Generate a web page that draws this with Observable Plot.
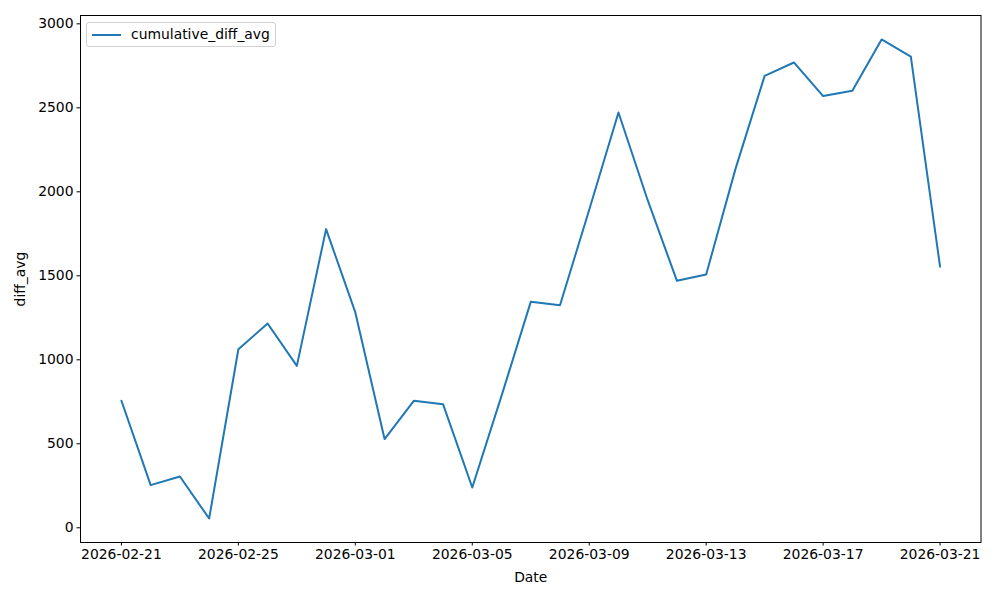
<!DOCTYPE html>
<html>
<head>
<meta charset="utf-8">
<script src="https://cdn.jsdelivr.net/npm/d3@7"></script>
<script src="https://cdn.jsdelivr.net/npm/@observablehq/plot@0.6"></script>
<style>
  html, body { margin: 0; padding: 0; background: #fff; }
  #wrap { position: relative; width: 1000px; height: 600px; font-family: "DejaVu Sans", sans-serif; }
  #legend { position: absolute; left: 86px; top: 22px; width: 190px; height: 25px; border: 1px solid #d0d0d0; border-radius: 3px; background: rgba(255,255,255,0.8); font-size: 13.9px; box-sizing: border-box; }
  #legend .swatch { position: absolute; left: 5px; top: 11px; width: 29px; height: 0; border-top: 2px solid #1f77b4; }
  #legend .label { position: absolute; left: 44px; top: 3px; white-space: nowrap; color: #000; }
</style>
</head>
<body>
<div id="wrap"></div>
<script>
const dates = [
  "2026-02-21","2026-02-22","2026-02-23","2026-02-24","2026-02-25","2026-02-26","2026-02-27","2026-02-28",
  "2026-03-01","2026-03-02","2026-03-03","2026-03-04","2026-03-05","2026-03-06","2026-03-07","2026-03-08",
  "2026-03-09","2026-03-10","2026-03-11","2026-03-12","2026-03-13","2026-03-14","2026-03-15","2026-03-16",
  "2026-03-17","2026-03-18","2026-03-19","2026-03-20","2026-03-21"
];
const cumulativeDiffAvg = [
  756, 254, 305, 55, 1063, 1216, 964, 1778,
  1282, 528, 756, 736, 240, 785, 1345, 1325,
  1893, 2472, 1950, 1470, 1508, 2135, 2690, 2770,
  2570, 2601, 2907, 2805, 1554
];
const xTickLabels = ["2026-02-21","2026-02-25","2026-03-01","2026-03-05","2026-03-09","2026-03-13","2026-03-17","2026-03-21"];
const yTicks = [0, 500, 1000, 1500, 2000, 2500, 3000];
const seriesName = "cumulative_diff_avg";

const data = dates.map((d, i) => ({date: new Date(d + "T00:00:00Z"), value: cumulativeDiffAvg[i]}));

// matplotlib-style 5% margins
const xMin = d3.min(data, d => d.date), xMax = d3.max(data, d => d.date);
const xPad = (xMax - xMin) * 0.05;
const yMin = d3.min(cumulativeDiffAvg), yMax = d3.max(cumulativeDiffAvg);
const yPad = (yMax - yMin) * 0.05;

const fmt = d3.utcFormat("%Y-%m-%d");

const chart = Plot.plot({
  width: 1000,
  height: 600,
  marginLeft: 80,
  marginRight: 19.5,
  marginTop: 15,
  marginBottom: 58,
  style: {fontFamily: "DejaVu Sans, sans-serif", fontSize: "13.9px", color: "#000", background: "#fff"},
  x: {type: "utc", domain: [new Date(+xMin - xPad), new Date(+xMax + xPad)]},
  y: {domain: [yMin - yPad, yMax + yPad]},
  marks: [
    Plot.axisX({
      ticks: xTickLabels.map(s => new Date(s + "T00:00:00Z")),
      tickFormat: fmt,
      tickSize: 3.5,
      tickPadding: 3.5,
      label: "Date",
      labelAnchor: "center",
      labelArrow: "none",
      labelOffset: 39
    }),
    Plot.axisY({
      ticks: yTicks,
      tickFormat: d => String(d),
      tickSize: 3.5,
      tickPadding: 3.5,
      label: "diff_avg",
      labelAnchor: "center",
      labelArrow: "none",
      labelOffset: 65
    }),
    Plot.line(data, {x: "date", y: "value", stroke: "#1f77b4", strokeWidth: 2}),
    Plot.frame({stroke: "#000", strokeWidth: 1})
  ]
});

const wrap = document.getElementById("wrap");
wrap.appendChild(chart);
const legend = document.createElement("div");
legend.id = "legend";
legend.innerHTML = `<div class="swatch"></div><div class="label">${seriesName}</div>`;
wrap.appendChild(legend);
</script>
</body>
</html>
